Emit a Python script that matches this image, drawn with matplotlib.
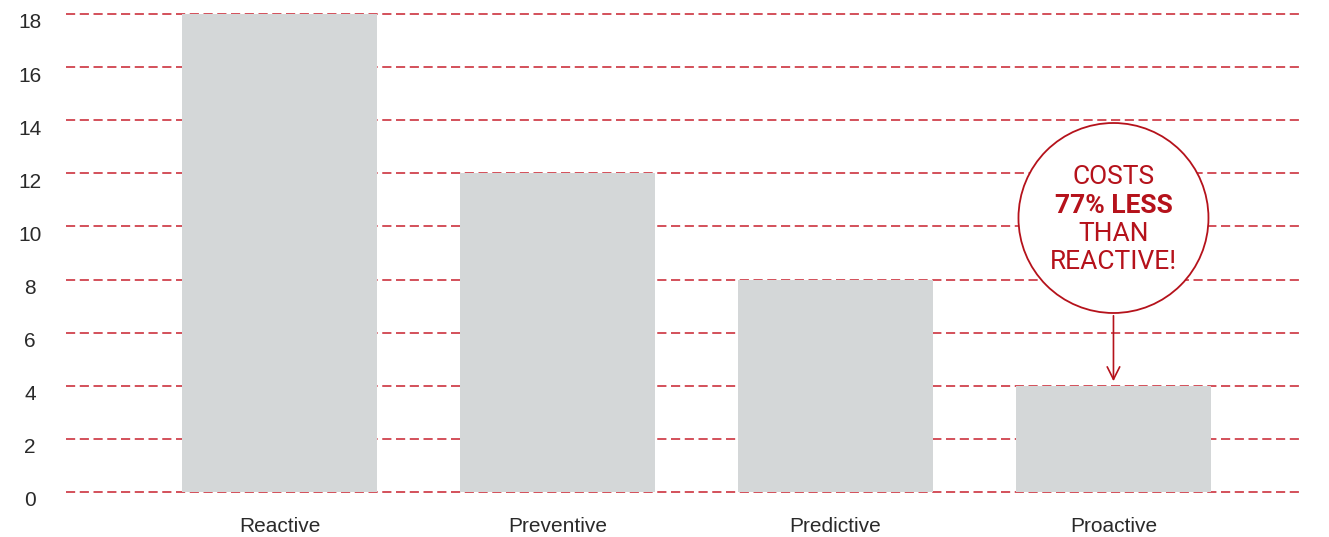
import matplotlib.pyplot as plt
from matplotlib.patches import Ellipse
from matplotlib.transforms import ScaledTranslation

# データ
categories = ["Reactive", "Preventive", "Predictive", "Proactive"]
costs = [18, 12, 8, 4]
y_ticks = [0, 2, 4, 6, 8, 10, 12, 14, 16, 18]

red = "#b5121b"
bar_color = "#d4d7d8"

plt.rcParams['font.family'] = ['Liberation Sans', 'DejaVu Sans']

fig = plt.figure(figsize=(13.29, 5.37), dpi=100)
ax = fig.add_axes([66 / 1329, (537 - 492) / 537, (1300 - 66) / 1329, (492 - 14) / 537])

x = list(range(len(categories)))
ax.bar(x, costs, width=0.70, color=bar_color, zorder=3)

ax.set_xlim(-0.768, 3.671)
ax.set_ylim(0, 18)
ax.set_yticks(y_ticks)
ax.set_xticks(x)
ax.set_xticklabels(categories)
ax.tick_params(axis='both', length=0, labelsize=15, colors="#2a2a2a")
ax.tick_params(axis='y', pad=26)
ax.tick_params(axis='x', pad=18)
# 目盛りラベルを少し下にずらす
shift = ScaledTranslation(0, -7 / 100, fig.dpi_scale_trans)
for lab in ax.get_yticklabels():
    lab.set_horizontalalignment('center')
    lab.set_transform(lab.get_transform() + shift)
ax.grid(axis='y', color="#c8202e", linestyle=(0, (6, 3)), linewidth=1.1, zorder=1)
for gl in ax.get_ygridlines():
    gl.set_clip_on(False)
ax.set_axisbelow(True)
for s in ax.spines.values():
    s.set_visible(False)

# 吹き出し（円）
px_per_x = (1300 - 66) / (3.671 + 0.768)
px_per_y = (492 - 14) / 18
cx, cy = 3, (492 - 218) / px_per_y
r = 95
ax.add_patch(Ellipse((cx, cy), 2 * r / px_per_x, 2 * r / px_per_y,
                     facecolor="white", edgecolor=red, linewidth=1.3, zorder=5))
ax.annotate("", xy=(cx, (492 - 384) / px_per_y), xytext=(cx, (492 - 313) / px_per_y),
            arrowprops=dict(arrowstyle="->,head_length=0.9,head_width=0.45", color=red, lw=1.2),
            zorder=6)

font_c = ['Roboto', 'DejaVu Sans']
lines = [("COSTS", "normal", 177), ("77% LESS", "bold", 206),
         ("THAN", "normal", 234), ("REACTIVE!", "normal", 262)]
for txt, w, py in lines:
    ax.text(cx, (492 - py) / px_per_y, txt, ha='center', va='center', fontsize=19,
            fontweight=w, color=red, family=font_c, zorder=7)

fig.savefig("out.png", dpi=100)
